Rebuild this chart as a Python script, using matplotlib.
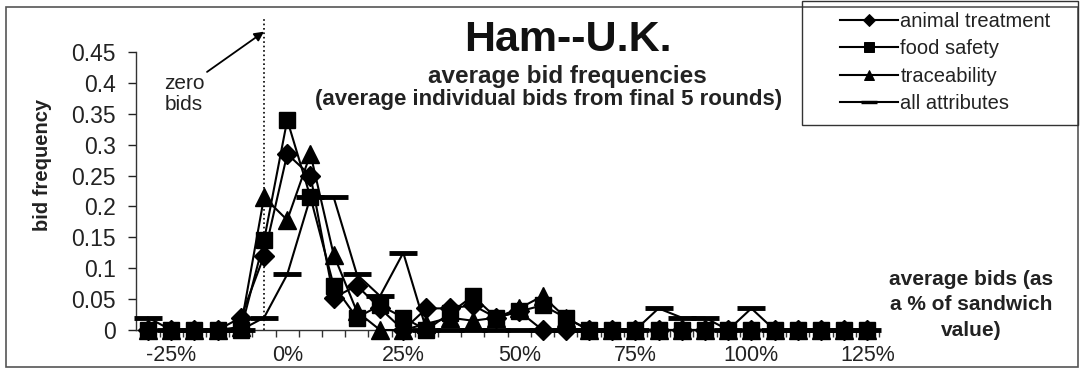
import matplotlib
matplotlib.use("Agg")
import matplotlib.pyplot as plt
from matplotlib.patches import Rectangle
from matplotlib.lines import Line2D

plt.rcParams['font.family'] = ['Liberation Sans', 'DejaVu Sans']

# Bid levels (% of sandwich value) and average bid frequencies
bid_levels = [-30, -25, -20, -15, -10, -5, 0, 5, 10, 15, 20, 25, 30, 35, 40, 45,
              50, 55, 60, 65, 70, 75, 80, 85, 90, 95, 100, 105, 110, 115, 120, 125]

animal_treatment = [0, 0, 0, 0, 0.02, 0.12, 0.285, 0.25, 0.052, 0.072, 0.035, 0,
                    0.035, 0.035, 0.04, 0.02, 0.03, 0, 0, 0, 0, 0, 0, 0,
                    0, 0, 0, 0, 0, 0, 0, 0]
food_safety = [0, 0, 0, 0, 0, 0.145, 0.34, 0.215, 0.072, 0.02, 0.04, 0.02,
               0, 0.027, 0.055, 0.02, 0.03, 0.04, 0.02, 0, 0, 0, 0, 0,
               0, 0, 0, 0, 0, 0, 0, 0]
traceability = [0, 0, 0, 0, 0.005, 0.215, 0.178, 0.285, 0.122, 0.03, 0, 0,
                0.01, 0.02, 0.015, 0.02, 0.035, 0.055, 0.02, 0, 0, 0, 0, 0,
                0, 0, 0, 0, 0, 0, 0, 0]
all_attributes = [0.02, 0, 0, 0, 0, 0.02, 0.09, 0.215, 0.215, 0.09, 0.055, 0.125,
                  0, 0, 0, 0, 0, 0, 0, 0, 0, 0, 0.035, 0.02,
                  0.02, 0, 0.035, 0, 0, 0, 0, 0]

x_tick_values = [-25, 0, 25, 50, 75, 100, 125]
x_tick_labels = ['-25%', '0%', '25%', '50%', '75%', '100%', '125%']
y_tick_values = [0, 0.05, 0.1, 0.15, 0.2, 0.25, 0.3, 0.35, 0.4, 0.45]
y_tick_labels = ['0', '0.05', '0.1', '0.15', '0.2', '0.25', '0.3', '0.35', '0.4', '0.45']
zero_bid_level = -5

W, H = 1083, 369
fig = plt.figure(figsize=(W / 100, H / 100), dpi=100)


def fx(px):
    return px / W


def fy(py):
    return 1 - py / H


ax = fig.add_axes([fx(136.4), fy(330), fx(879) - fx(136.4), fy(52) - fy(330)])
ax.set_xlim(-32.5, 127.5)
ax.set_ylim(0, 0.45)

series = [
    (animal_treatment, 'D', 10.5, 1.0, 'animal treatment'),
    (food_safety, 's', 12, 1.0, 'food safety'),
    (traceability, '^', 13, 1.0, 'traceability'),
    (all_attributes, '_', 20, 3.5, 'all attributes'),
]
handles = []
for vals, mk, ms, mew, name in series:
    ax.plot(bid_levels, vals, color='black', lw=1.5, marker=mk, ms=ms,
            mfc='black', mec='black', mew=mew, clip_on=False, zorder=3)
    handles.append(Line2D([], [], color='black', lw=1.5, marker=mk,
                          ms=ms * 0.55, mfc='black', mec='black',
                          mew=mew * 0.7))

for side in ('top', 'right'):
    ax.spines[side].set_visible(False)
for side in ('left', 'bottom'):
    ax.spines[side].set_linewidth(1.0)
    ax.spines[side].set_color('#333333')

ax.set_yticks(y_tick_values)
ax.set_yticklabels(y_tick_labels)
ax.tick_params(axis='y', direction='out', length=6, width=1, pad=9,
               labelsize=16.5, colors='#222222')

ax.set_xticks(x_tick_values)
ax.set_xticklabels(x_tick_labels)
ax.set_xticks([v + 2.5 for v in bid_levels[:-1]] + [127.5], minor=True)
ax.tick_params(axis='x', which='major', length=0, pad=11, labelsize=15.5,
               colors='#222222')
ax.tick_params(axis='x', which='minor', direction='out', length=5, width=1,
               color='#333333')

fig.text(fx(43), fy(165), 'bid frequency', rotation=90, ha='center',
         va='center', fontsize=14.5, fontweight='bold', color='#222222')

# zero-bid marker line and note
ax.plot([zero_bid_level, zero_bid_level], [0, (330 - 17) / 617.8], color='black',
        lw=1.2, ls=':', clip_on=False, zorder=2)
ax.annotate('zero\nbids', xy=(zero_bid_level, 0.483),
            xytext=(fx(184), fy(94)), textcoords='figure fraction',
            ha='center', va='center', fontsize=15, color='#222222',
            linespacing=1.15, annotation_clip=False,
            arrowprops=dict(arrowstyle='-|>', color='black', lw=1.3,
                            mutation_scale=14, relpos=(1.0, 1.0),
                            shrinkA=0, shrinkB=0))

# titles
fig.text(fx(568), fy(40), 'Ham--U.K.', ha='center', va='center', fontsize=31,
         fontweight='bold', color='#111111')
fig.text(fx(567), fy(76), 'average bid frequencies', ha='center', va='center',
         fontsize=17.5, fontweight='bold', color='#222222')
fig.text(fx(549), fy(100), '(average individual bids from final 5 rounds)',
         ha='center', va='center', fontsize=16, fontweight='bold',
         color='#222222')

# horizontal-axis caption at the right
fig.text(fx(971), fy(305), 'average bids (as\na % of sandwich\nvalue)',
         ha='center', va='center', fontsize=15, fontweight='bold',
         color='#222222', linespacing=1.45)

# legend inside its own box
leg = fig.legend(handles, [s[4] for s in series], loc='upper left',
                 bbox_to_anchor=(fx(840), fy(12)), frameon=False,
                 fontsize=14.5, handlelength=2.9, handletextpad=0.1,
                 labelspacing=0.42, borderpad=0, borderaxespad=0)
for t in leg.get_texts():
    t.set_color('#222222')
fig.add_artist(Rectangle((fx(802), fy(125)), fx(1078) - fx(802),
                         fy(1) - fy(125), transform=fig.transFigure,
                         fill=False, ec='#333333', lw=1.0))

# chart border
fig.add_artist(Rectangle((fx(6), fy(367)), fx(1078) - fx(6), fy(7) - fy(367),
                         transform=fig.transFigure, fill=False, ec='#555555',
                         lw=1.2, zorder=0))

fig.savefig('out.png', dpi=100)
